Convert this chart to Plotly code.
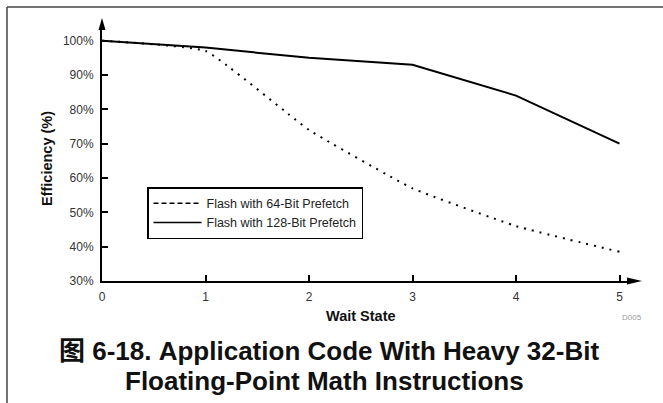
import plotly.graph_objects as go

# ---- data ----
wait_states = [0, 1, 2, 3, 4, 5]
eff_64bit = [100, 97, 74, 57, 46, 38.5]
eff_128bit = [100, 98, 95, 93, 84, 70]
y_tick_vals = [30, 40, 50, 60, 70, 80, 90, 100]
y_tick_text = [f"{v}%" for v in y_tick_vals]
series_names = ["Flash with 64-Bit Prefetch", "Flash with 128-Bit Prefetch"]
x_title = "Wait State"
y_title = "Efficiency (%)"
caption_1 = "图 6-18. Application Code With Heavy 32-Bit"
caption_2 = "Floating-Point Math Instructions"
code_tag = "D005"

# ---- layout geometry (pixels) ----
W, H = 663, 403
L, R, T, B = 102, 627, 30, 281  # plot area edges in px
PW, PH = R - L, B - T
X_UNIT = 103.5      # px per wait state
Y_UNIT = 3.433      # px per percent


def px_x(px):
    return (px - L) / PW


def px_y(py):
    return (B - py) / PH


FONT = "Liberation Sans, Arial, Noto Sans CJK SC, sans-serif"

fig = go.Figure()

fig.add_trace(go.Scatter(
    x=wait_states, y=eff_64bit, mode="lines", showlegend=False,
    line=dict(color="black", width=2, dash="2px,6px", shape="spline", smoothing=0.35),
))
fig.add_trace(go.Scatter(
    x=wait_states, y=eff_128bit, mode="lines", showlegend=False,
    line=dict(color="black", width=2),
))
# legend entries
fig.add_trace(go.Scatter(
    x=[None], y=[None], mode="lines", name=series_names[0],
    line=dict(color="black", width=1.5, dash="5px,3px"),
))
fig.add_trace(go.Scatter(
    x=[None], y=[None], mode="lines", name=series_names[1],
    line=dict(color="black", width=1.5),
))

x_max = PW / X_UNIT
y_max = 30 + PH / Y_UNIT

axis_common = dict(
    showgrid=False, zeroline=False, showline=True, linecolor="black", linewidth=2,
    ticks="inside", ticklen=6, tickwidth=1.5, tickcolor="black",
    tickfont=dict(family=FONT, size=12, color="#333333"),
)

fig.update_layout(
    width=W, height=H,
    margin=dict(l=L, r=W - R, t=T, b=H - B, pad=0),
    paper_bgcolor="white", plot_bgcolor="white",
    xaxis=dict(range=[0, x_max], tickvals=wait_states, ticklabelstandoff=4, **axis_common),
    yaxis=dict(range=[30, y_max], tickvals=y_tick_vals, ticktext=y_tick_text,
               ticklabelstandoff=4, **axis_common),
    legend=dict(
        x=px_x(147), y=px_y(187), xanchor="left", yanchor="top",
        bordercolor="black", borderwidth=1.5, bgcolor="white",
        font=dict(family=FONT, size=12.5, color="#222222"),
        itemwidth=48, tracegroupgap=0,
    ),
    showlegend=True,
)

shapes = [
    # axis arrowheads
    dict(type="path", xref="paper", yref="paper", xsizemode="pixel", ysizemode="pixel",
         xanchor=1, yanchor=0, path="M0,-3.5 L15,0 L0,3.5 Z",
         fillcolor="black", line=dict(width=0)),
    dict(type="path", xref="paper", yref="paper", xsizemode="pixel", ysizemode="pixel",
         xanchor=0, yanchor=1, path="M-3.5,0 L0,12 L3.5,0 Z",
         fillcolor="black", line=dict(width=0)),
    # frame
    dict(type="line", xref="paper", yref="paper", x0=px_x(7), x1=px_x(663), y0=px_y(7), y1=px_y(7),
         line=dict(color="#444444", width=1.5)),
    dict(type="line", xref="paper", yref="paper", x0=px_x(7), x1=px_x(7), y0=px_y(7), y1=px_y(403),
         line=dict(color="#444444", width=1.5)),
]
fig.update_layout(shapes=shapes)

ann = [
    dict(text=f"<b>{x_title}</b>", x=px_x(361), y=px_y(316), font=dict(family=FONT, size=14.5, color="#111")),
    dict(text=f"<b>{y_title}</b>", x=px_x(47), y=px_y(159), textangle=-90,
         font=dict(family=FONT, size=14.5, color="#111")),
    dict(text=code_tag, x=px_x(632), y=px_y(317), font=dict(family=FONT, size=8, color="#999999")),
    dict(text=f"<b>{caption_1}</b>", x=px_x(329), y=px_y(351), font=dict(family=FONT, size=26, color="#111")),
    dict(text=f"<b>{caption_2}</b>", x=px_x(324), y=px_y(381), font=dict(family=FONT, size=26, color="#111")),
]
for a in ann:
    a.update(xref="paper", yref="paper", showarrow=False, xanchor="center", yanchor="middle")
fig.update_layout(annotations=ann)

fig.write_html("out.html", config={"displayModeBar": False},
               post_script="document.body.style.margin='0px';")
